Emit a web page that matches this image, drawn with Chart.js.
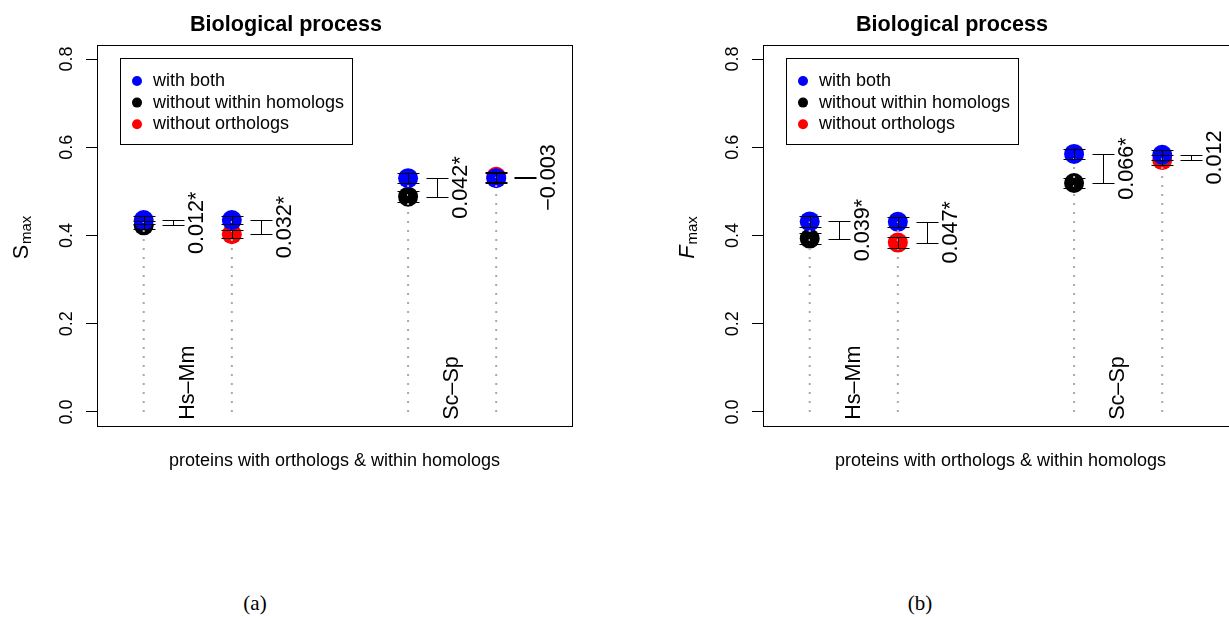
<!DOCTYPE html>
<html>
<head>
<meta charset="utf-8">
<script src="https://cdn.jsdelivr.net/npm/chart.js@4/dist/chart.umd.min.js"></script>
<style>
  html, body { margin:0; padding:0; background:#fff; }
  body { width:1229px; height:617px; overflow:hidden; position:relative; }
  canvas { position:absolute; top:0; }
  #cA { left:0; }
  #cB { left:666px; }
  .cap { position:absolute; top:590px; width:60px; text-align:center;
         font-family:"Liberation Serif","DejaVu Serif",serif; font-size:21px; line-height:26px; color:#000; }
</style>
</head>
<body>
<canvas id="cA" width="669" height="490"></canvas>
<canvas id="cB" width="669" height="490"></canvas>
<div class="cap" style="left:225px">(a)</div>
<div class="cap" style="left:890px">(b)</div>
<script>
'use strict';

// --- Data ---
const xPos = [1, 2, 4, 5];
const otherKind = ['noWithin', 'noOrth', 'noWithin', 'noOrth'];
const groups = ['Hs\u2013Mm', 'Sc\u2013Sp'];
const groupX = [1.5, 4.5];
const yTicks = [0, 0.2, 0.4, 0.6, 0.8];
const seriesNames = ['with both', 'without within homologs', 'without orthologs'];

// S max
const sBoth  = [0.435, 0.435, 0.530, 0.530];
const sOther = [0.423, 0.403, 0.488, 0.533];
const sCI    = [0.009, 0.009, 0.012, 0.012];
const sDiff  = ['0.012*', '0.032*', '0.042*', '\u22120.003'];

// F max
const fBoth  = [0.432, 0.431, 0.585, 0.583];
const fOther = [0.393, 0.384, 0.519, 0.571];
const fCI    = [0.012, 0.012, 0.012, 0.012];
const fDiff  = ['0.039*', '0.047*', '0.066*', '0.012'];

const FONT = '"Liberation Sans", Arial, Helvetica, sans-serif';
Chart.defaults.font.family = FONT;
Chart.defaults.color = '#000';

// --- R-ish extras: error bars, diff labels, legend, box, ylab ---
const rPlot = {
  id: 'rPlot',
  afterDatasetsDraw(chart, args, o){
    const {ctx, chartArea:a, scales:{x, y}} = chart;
    const px = v => Math.round(x.getPixelForValue(v)) + 0.5;
    const py = v => Math.round(y.getPixelForValue(v)) + 0.5;
    const seg = (x0,y0,x1,y1)=>{ ctx.beginPath(); ctx.moveTo(x0,y0); ctx.lineTo(x1,y1); ctx.stroke(); };
    const bar = (xx, v0, v1)=>{
      const y0 = py(v0), y1 = py(v1);
      seg(xx, y0, xx, y1); seg(xx-11, y0, xx+11, y0); seg(xx-11, y1, xx+11, y1);
    };
    ctx.save();
    ctx.strokeStyle = '#000'; ctx.lineWidth = 1;
    o.both.forEach((b,i)=>{
      const oth = o.other[i], ci = o.ci[i];
      bar(px(xPos[i]), b-ci, b+ci);
      bar(px(xPos[i]), oth-ci, oth+ci);
      bar(px(xPos[i]+0.33), b, oth);
    });

    // difference labels, rotated, centred on the pair
    ctx.fillStyle = '#000';
    ctx.font = '21.6px ' + FONT;
    ctx.textAlign = 'center'; ctx.textBaseline = 'middle';
    o.diff.forEach((t,i)=>{
      ctx.save();
      ctx.translate(x.getPixelForValue(xPos[i]+0.6), y.getPixelForValue((o.both[i]+o.other[i])/2));
      ctx.rotate(-Math.PI/2);
      ctx.fillText(t, 0, 0);
      ctx.restore();
    });

    // group labels
    ctx.textAlign = 'left';
    groups.forEach((g,i)=>{
      ctx.save();
      ctx.translate(x.getPixelForValue(groupX[i]), y.getPixelForValue(-0.018));
      ctx.rotate(-Math.PI/2);
      ctx.fillText(g, 0, 0);
      ctx.restore();
    });

    // box
    ctx.strokeRect(Math.round(a.left)+0.5, Math.round(a.top)+0.5, Math.round(a.right-a.left), Math.round(a.bottom-a.top));

    // legend
    const lx = a.left + 23, ly = a.top + 13;
    ctx.strokeRect(Math.round(lx)+0.5, Math.round(ly)+0.5, 232, 86);
    const cols = ['#0000ff', '#000000', '#ff0000'];
    ctx.font = '18px ' + FONT;
    seriesNames.forEach((n,i)=>{
      const yy = ly + 23 + i*21.6;
      ctx.beginPath(); ctx.arc(lx+17, yy, 5, 0, Math.PI*2); ctx.fillStyle = cols[i]; ctx.fill();
      ctx.fillStyle = '#000'; ctx.fillText(n, lx+33, yy);
    });

    // y label with subscript
    ctx.save();
    ctx.translate(21, 238);
    ctx.rotate(-Math.PI/2);
    const big = (o.italic ? 'italic ' : '') + '21.6px ' + FONT;
    const small = '15px ' + FONT;
    ctx.font = big; const w1 = ctx.measureText(o.ylab).width;
    ctx.font = small; const w2 = ctx.measureText('max').width;
    ctx.textBaseline = 'alphabetic'; ctx.textAlign = 'left';
    const x0 = -(w1+w2)/2;
    ctx.font = big; ctx.fillText(o.ylab, x0, 7);
    ctx.font = small; ctx.fillText('max', x0 + w1 + 1, 10);
    ctx.restore();

    ctx.restore();
  }
};

function makeChart(id, ylab, italic, both, other, ci, diff){
  const pick = kind => xPos.map((xv,i)=> otherKind[i]===kind ? {x:xv, y:other[i]} : null).filter(Boolean);
  const dotted = xPos.map((xv,i)=>({
    data:[{x:xv, y:0}, {x:xv, y:Math.max(both[i], other[i])}],
    showLine:true, borderColor:'#a9a9a9', borderWidth:2, borderDash:[2,7],
    pointRadius:0, order:0
  }));
  const pts = (label, data, col, order)=>({
    label, data, backgroundColor:col, pointBackgroundColor:col, borderWidth:0,
    pointRadius:10, pointBorderWidth:0, order
  });
  return new Chart(document.getElementById(id), {
    type:'scatter',
    data:{ datasets:[
      ...dotted,
      pts(seriesNames[0], xPos.map((xv,i)=>({x:xv, y:both[i]})), '#0000ff', 1),
      pts(seriesNames[1], pick('noWithin'), '#000000', 2),
      pts(seriesNames[2], pick('noOrth'), '#ff0000', 3)
    ]},
    options:{
      responsive:false, animation:false, events:[], devicePixelRatio:1,
      layout:{ padding:{left:0, right:97, top:0, bottom:0} },
      scales:{
        x:{ type:'linear', min:0.47, max:5.86,
            grid:{display:false}, border:{display:false}, ticks:{display:false},
            title:{ display:true, text:'proteins with orthologs & within homologs', color:'#000',
                    font:{size:18}, padding:{top:0, bottom:18} },
            afterFit: s => { s.height = 64; } },
        y:{ min:-0.032, max:0.832,
            afterBuildTicks: s => { s.ticks = yTicks.map(v=>({value:v})); },
            afterFit: s => { s.width = 97; },
            border:{display:false},
            grid:{ drawOnChartArea:false, drawTicks:true, tickLength:11, color:'#000', lineWidth:1 },
            ticks:{ minRotation:90, maxRotation:90, crossAlign:'center', padding:6, autoSkip:false,
                    color:'#000', font:{size:18}, callback: v => Number(v).toFixed(1) } }
      },
      plugins:{
        legend:{display:false}, tooltip:{enabled:false},
        title:{ display:true, text:'Biological process', color:'#000',
                font:{size:21.6, weight:'bold'}, padding:{top:12.5, bottom:6.58} },
        rPlot:{ both, other, ci, diff, ylab, italic }
      }
    },
    plugins:[rPlot]
  });
}

makeChart('cA', 'S', false, sBoth, sOther, sCI, sDiff);
makeChart('cB', 'F', true, fBoth, fOther, fCI, fDiff);
</script>
</body>
</html>
